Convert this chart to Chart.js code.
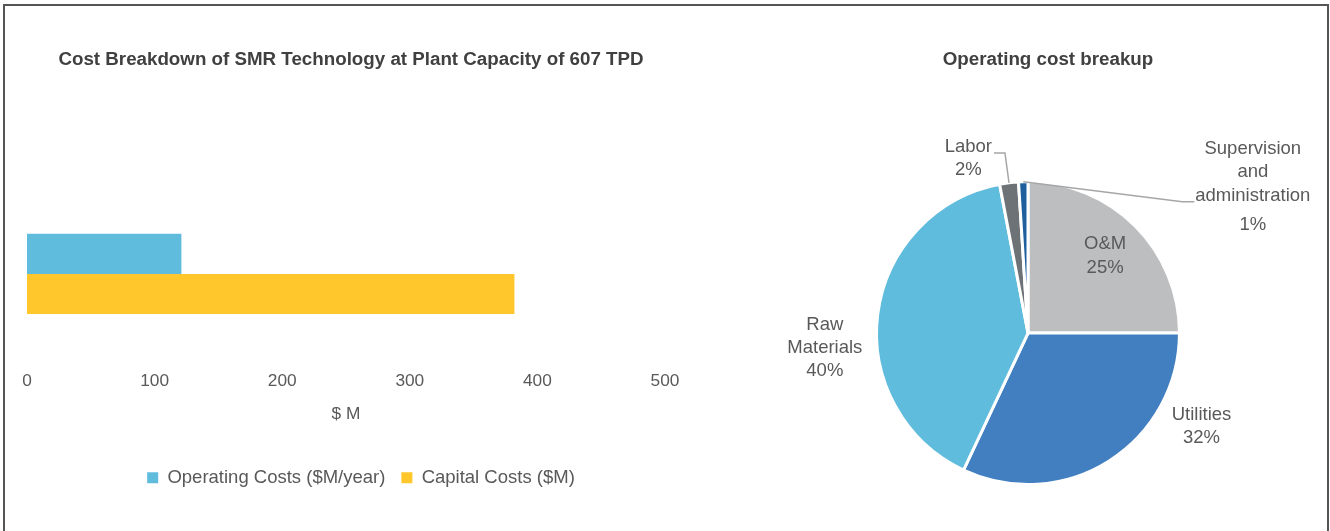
<!DOCTYPE html>
<html lang="en">
<head>
    <meta charset="UTF-8">
    <title>SMR cost breakdown</title>
    <script src="https://cdn.jsdelivr.net/npm/chart.js"></script>
    <style>
        body {
            margin: 0;
            background: #fff;
        }
        .frame {
            position: absolute;
            left: 3px;
            top: 4px;
            width: 1322px;
            height: 600px;
            border: 2px solid #555;
            border-bottom: none;
        }
        canvas {
            position: absolute;
            top: 0;
        }
        #costChart { left: 0; }
        #opexChart { left: 770px; }
    </style>
</head>
<body>
    <div class="frame"></div>
    <canvas id="costChart" width="702" height="531"></canvas>
    <canvas id="opexChart" width="556" height="531"></canvas>
<script>
    // plant-level costs, $M
    const costCategories = ['SMR'];
    const operatingCosts = [121];
    const capitalCosts = [382];
    const xTicks = [0, 100, 200, 300, 400, 500];

    // operating cost split, %
    const opexNames = ['O&M', 'Utilities', 'Raw\nMaterials', 'Labor', 'Supervision\nand\nadministration'];
    const opexShares = [25, 32, 40, 2, 1];
    const opexColors = ['#BDBEC0', '#417FC1', '#60BCDD', '#6D7276', '#1F5F9E'];

    const FONT = "'Liberation Sans', Arial, sans-serif";
    Chart.defaults.font.family = FONT;
    Chart.defaults.font.size = 17.3;
    Chart.defaults.color = '#595959';

    const titleFont = {size: 18.75, weight: 'bold'};

    // shift title / legend sideways after layout (they centre on the padded area otherwise)
    const nudge = {
        id: 'nudge',
        afterLayout(chart, args, opts) {
            if (opts.title && chart.titleBlock) {
                chart.titleBlock.left += opts.title;
                chart.titleBlock.right += opts.title;
            }
            if (opts.legend && chart.legend) {
                chart.legend.left += opts.legend;
                chart.legend.right += opts.legend;
            }
        }
    };

    new Chart(document.getElementById('costChart'), {
        type: 'bar',
        data: {
            labels: costCategories,
            datasets: [
                {label: 'Operating Costs ($M/year)', data: operatingCosts, backgroundColor: '#60BCDD'},
                {label: 'Capital Costs ($M)', data: capitalCosts, backgroundColor: '#FFC72C'}
            ]
        },
        options: {
            responsive: false,
            animation: false,
            indexAxis: 'y',
            categoryPercentage: 0.449,
            barPercentage: 1,
            layout: {padding: {left: 27, right: 37, top: 0, bottom: 34}},
            scales: {
                x: {
                    min: xTicks[0],
                    max: xTicks[xTicks.length - 1],
                    afterBuildTicks: (axis) => { axis.ticks = xTicks.map(v => ({value: v})); },
                    grid: {display: false, drawTicks: false},
                    border: {display: false},
                    ticks: {padding: 8, color: '#595959'},
                    title: {display: true, text: '$ M', color: '#595959', padding: {top: 4.3, bottom: 27.4}}
                },
                y: {display: false}
            },
            plugins: {
                title: {
                    display: true,
                    text: 'Cost Breakdown of SMR Technology at Plant Capacity of 607 TPD',
                    color: '#404040',
                    font: titleFont,
                    padding: {top: 48.4, bottom: 113.6}
                },
                legend: {
                    position: 'bottom',
                    labels: {boxWidth: 11, boxHeight: 11, padding: 16, color: '#595959', font: {size: 18.5}}
                },
                tooltip: {enabled: false},
                nudge: {title: 5, legend: 15}
            }
        },
        plugins: [nudge]
    });

    // label spot per slice: angle clockwise from 12 o'clock (null = slice middle),
    // distance in radii, optional leader line side
    const opexLabelSpots = [
        {angle: null, dist: 0.72},
        {angle: 118.2, dist: 1.30},
        {angle: 265.8, dist: 1.345},
        {angle: 341.1, dist: 1.217, leader: 'right'},
        {angle: 57, dist: 1.77, leader: 'left', valueGap: 6}
    ];

    const pieLabels = {
        id: 'pieLabels',
        afterDatasetsDraw(chart) {
            const ctx = chart.ctx;
            const arcs = chart.getDatasetMeta(0).data;
            const total = opexShares.reduce((a, b) => a + b, 0);
            const lineH = 23.3;
            ctx.save();
            ctx.font = '18.5px ' + FONT;
            ctx.fillStyle = '#595959';
            ctx.textAlign = 'center';
            ctx.textBaseline = 'middle';
            arcs.forEach((arc, i) => {
                const {x, y, startAngle, endAngle, outerRadius} = arc.getProps(['x', 'y', 'startAngle', 'endAngle', 'outerRadius'], true);
                const spot = opexLabelSpots[i];
                const mid = (startAngle + endAngle) / 2;
                const ang = spot.angle === null ? mid : (spot.angle - 90) * Math.PI / 180;
                const cx = x + Math.cos(ang) * outerRadius * spot.dist;
                const cy = y + Math.sin(ang) * outerRadius * spot.dist;
                const lines = opexNames[i].split('\n');
                const pct = Math.round(opexShares[i] / total * 100) + '%';
                const gap = spot.valueGap || 0;
                const blockH = (lines.length + 1) * lineH + gap;
                const firstY = cy - blockH / 2 + lineH / 2;
                let ly = firstY;
                let widest = 0, widestY = ly;
                lines.forEach(t => {
                    const w = ctx.measureText(t).width;
                    if (w >= widest) { widest = w; widestY = ly; }
                    ctx.fillText(t, cx, ly);
                    ly += lineH;
                });
                ctx.fillText(pct, cx, ly + gap);

                if (spot.leader) {
                    const ex = x + Math.cos(mid) * outerRadius;
                    const ey = y + Math.sin(mid) * outerRadius;
                    ctx.strokeStyle = '#A6A6A6';
                    ctx.lineWidth = 1.5;
                    ctx.beginPath();
                    if (spot.leader === 'right') {
                        const sx = cx + ctx.measureText(lines[0]).width / 2 + 2;
                        ctx.moveTo(sx, firstY + 6);
                        ctx.lineTo(sx + 11, firstY + 6);
                    } else {
                        const sx = cx - widest / 2 - 1;
                        ctx.moveTo(sx, widestY + 6);
                        ctx.lineTo(sx - 12, widestY + 6);
                    }
                    ctx.lineTo(ex, ey);
                    ctx.stroke();
                }
            });
            ctx.restore();
        }
    };

    new Chart(document.getElementById('opexChart'), {
        type: 'pie',
        data: {
            labels: opexNames,
            datasets: [{
                data: opexShares,
                backgroundColor: opexColors,
                borderColor: '#FFFFFF',
                borderWidth: 3
            }]
        },
        options: {
            responsive: false,
            animation: false,
            layout: {padding: {left: 105, right: 145, top: 0, bottom: 45}},
            plugins: {
                title: {
                    display: true,
                    text: 'Operating cost breakup',
                    color: '#404040',
                    font: titleFont,
                    padding: {top: 48.4, bottom: 109.2}
                },
                legend: {display: false},
                tooltip: {enabled: false},
                nudge: {title: 20}
            }
        },
        plugins: [pieLabels, nudge]
    });
</script>
</body>
</html>
